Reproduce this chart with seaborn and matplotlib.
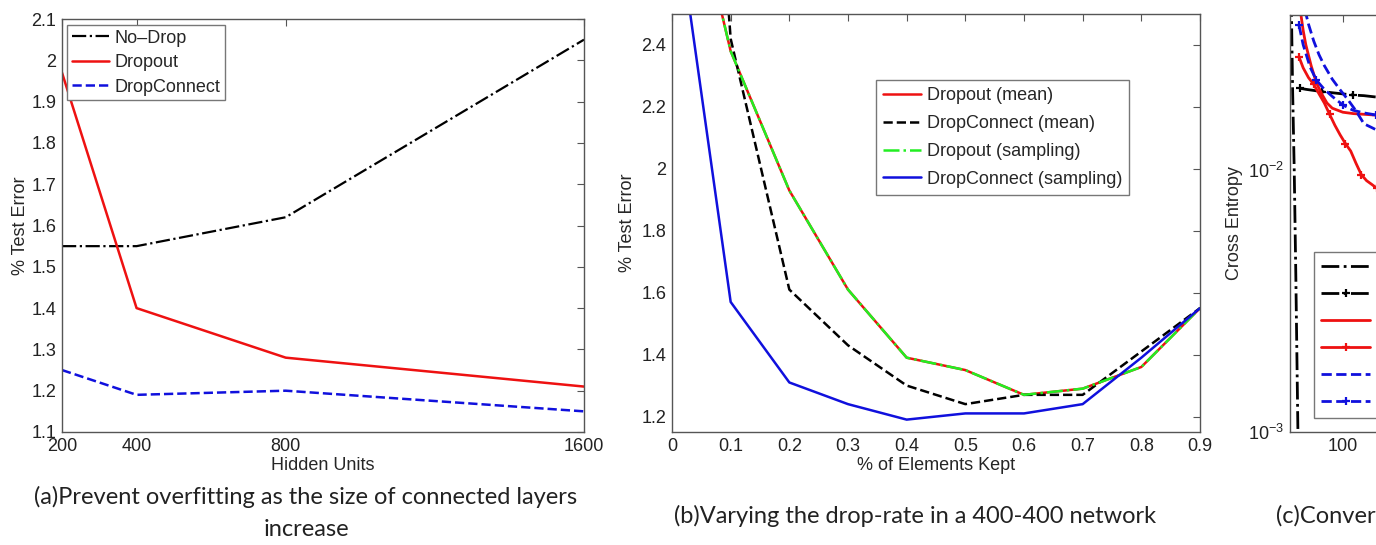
import pandas as pd
import numpy as np
import seaborn as sns
import matplotlib.pyplot as plt
from matplotlib.ticker import FuncFormatter

# (a) hidden units
units = [200, 400, 800, 1600]
nodrop_a = [1.55, 1.55, 1.62, 2.05]
dropout_a = [1.97, 1.40, 1.28, 1.21]
dropconnect_a = [1.25, 1.19, 1.20, 1.15]

# (b) fraction of elements kept
kept = [0.0, 0.1, 0.2, 0.3, 0.4, 0.5, 0.6, 0.7, 0.8, 0.9]
dropout_mean = [3.18, 2.38, 1.93, 1.61, 1.39, 1.35, 1.27, 1.29, 1.36, 1.55]
dropconnect_mean = [5.0, 2.42, 1.61, 1.43, 1.30, 1.24, 1.27, 1.27, 1.41, 1.55]
dropout_sampling = [3.18, 2.38, 1.93, 1.61, 1.39, 1.35, 1.27, 1.29, 1.36, 1.55]
dropconnect_sampling = [2.92, 1.57, 1.31, 1.24, 1.19, 1.21, 1.21, 1.24, 1.39, 1.55]

# (c) convergence (only the left edge is visible)
ep_nodrop_train = [2, 5, 8, 11, 13, 15, 17]
nodrop_train = [0.05, 0.02, 0.01, 0.004, 0.002, 0.001, 0.0006]
ep_nodrop_test = [18, 30, 45, 60, 80, 100, 120, 140, 160, 180]
nodrop_test = [0.0205, 0.0203, 0.0201, 0.0199, 0.0197, 0.0195, 0.0193, 0.0192, 0.019, 0.0189]
ep_dropout_train = [20, 25, 30, 40, 50, 60, 70, 80, 100, 120, 140, 160, 180]
dropout_train = [0.040, 0.034, 0.030, 0.025, 0.0215, 0.0195, 0.018, 0.0172, 0.0166, 0.0164, 0.0163, 0.0162, 0.0161]
ep_dropout_test = [17, 25, 35, 45, 55, 65, 75, 85, 95, 105, 115, 125, 135, 145, 155, 165, 175]
dropout_test = [0.027, 0.0245, 0.0225, 0.0212, 0.0195, 0.018, 0.0163, 0.0148, 0.0136, 0.0126,
                0.0118, 0.0106, 0.0096, 0.0091, 0.0088, 0.0085, 0.0083]
ep_dc_train = [28, 35, 45, 55, 65, 80, 95, 110, 125, 140, 155, 170]
dc_train = [0.041, 0.036, 0.031, 0.0275, 0.025, 0.0222, 0.0202, 0.0185, 0.0168, 0.0150, 0.0145, 0.014]
ep_dc_test = [17, 25, 38, 50, 65, 81, 100, 119, 140, 163, 180]
dc_test = [0.0357, 0.030, 0.0247, 0.0220, 0.0203, 0.019, 0.0177, 0.0169, 0.0165, 0.0162, 0.016]

sns.set_theme(style="white")
plt.rcParams["font.family"] = ["Liberation Sans", "DejaVu Sans"]
plt.rcParams["font.size"] = 13

fig = plt.figure(figsize=(13.76, 5.45), dpi=100)
ax_a = fig.add_axes([62/1376, 113/545, 522/1376, 413/545])
ax_b = fig.add_axes([672/1376, 113/545, 528/1376, 418/545])
ax_c = fig.add_axes([1290/1376, 113/545, 528/1376, 417/545])


def matlab_box(ax):
    for s in ax.spines.values():
        s.set_color("#555555")
        s.set_linewidth(1.0)
    ax.tick_params(direction="in", top=True, right=True, length=5, width=0.8,
                   color="#555555", labelsize=13, labelcolor="#222222", pad=4)
    ax.tick_params(which="minor", direction="in", top=True, right=True, length=3,
                   width=0.6, color="#555555")


leg_kw = dict(fontsize=13, frameon=True, fancybox=False, edgecolor="#777777", framealpha=1,
              borderaxespad=0, bbox_transform=fig.transFigure, loc="upper left")

# ---- (a)
df_a = pd.DataFrame({"units": units, "nd": nodrop_a, "do": dropout_a, "dc": dropconnect_a})
sns.lineplot(data=df_a, x="units", y="nd", ax=ax_a, color="black", lw=1.6,
             linestyle="-.", label="No\u2013Drop")
sns.lineplot(data=df_a, x="units", y="do", ax=ax_a, color="#ee1111", lw=1.8, label="Dropout")
sns.lineplot(data=df_a, x="units", y="dc", ax=ax_a, color="#1010dd", lw=1.8,
             linestyle="--", label="DropConnect")
ax_a.set_xlim(200, 1600)
ax_a.set_ylim(1.1, 2.1)
ax_a.set_xticks(units)
ax_a.set_yticks(np.arange(1.1, 2.15, 0.1))
ax_a.yaxis.set_major_formatter(FuncFormatter(lambda v, p: "%g" % round(v, 2)))
ax_a.set_xlabel("Hidden Units", fontsize=13, labelpad=2)
ax_a.set_ylabel("% Test Error", fontsize=13, labelpad=2)
matlab_box(ax_a)
ax_a.legend(bbox_to_anchor=(67/1376, 1-25/545), borderpad=0.25, labelspacing=0.42,
            handlelength=2.1, handletextpad=0.3, **leg_kw)

# ---- (b)
df_b = pd.DataFrame({"kept": kept, "dm": dropout_mean, "dcm": dropconnect_mean,
                     "ds": dropout_sampling, "dcs": dropconnect_sampling})
sns.lineplot(data=df_b, x="kept", y="dm", ax=ax_b, color="#ee1111", lw=1.8, label="Dropout (mean)")
sns.lineplot(data=df_b, x="kept", y="dcm", ax=ax_b, color="black", lw=1.8, linestyle="--",
             label="DropConnect (mean)")
sns.lineplot(data=df_b, x="kept", y="ds", ax=ax_b, color="#22ee22", lw=1.8, linestyle="-.",
             label="Dropout (sampling)")
sns.lineplot(data=df_b, x="kept", y="dcs", ax=ax_b, color="#1010dd", lw=1.8,
             label="DropConnect (sampling)")
ax_b.set_xlim(0, 0.9)
ax_b.set_ylim(1.15, 2.5)
ax_b.set_xticks(kept)
ax_b.set_yticks(np.arange(1.2, 2.45, 0.2))
ax_b.xaxis.set_major_formatter(FuncFormatter(lambda v, p: "%g" % round(v, 2)))
ax_b.yaxis.set_major_formatter(FuncFormatter(lambda v, p: "%g" % round(v, 2)))
ax_b.set_xlabel("% of Elements Kept", fontsize=13, labelpad=2)
ax_b.set_ylabel("% Test Error", fontsize=13, labelpad=4)
matlab_box(ax_b)
ax_b.legend(bbox_to_anchor=(876/1376, 1-80/545), borderpad=0.4, labelspacing=0.6,
            handlelength=2.1, handletextpad=0.3, **leg_kw)

# ---- (c)
series_c = [
    (ep_nodrop_train, nodrop_train, "black", "-.", None, "No-Drop Train"),
    (ep_nodrop_test, nodrop_test, "black", "-.", "+", "No-Drop Test"),
    (ep_dropout_train, dropout_train, "#ee1111", "-", None, "Dropout Train"),
    (ep_dropout_test, dropout_test, "#ee1111", "-", "+", "Dropout Test"),
    (ep_dc_train, dc_train, "#1010dd", "--", None, "DropConnect Train"),
    (ep_dc_test, dc_test, "#1010dd", "--", "+", "DropConnect Test"),
]
for xs, ys, col, ls, mk, lab in series_c:
    d = pd.DataFrame({"epoch": xs, "ce": ys})
    sns.lineplot(data=d, x="epoch", y="ce", ax=ax_c, color=col, lw=2.0, linestyle=ls,
                 marker=mk, markersize=6, markeredgewidth=1.6, markeredgecolor=col,
                 markevery=3, label=lab)
ax_c.set_yscale("log")
ax_c.set_xlim(0, 1000)
ax_c.set_ylim(1e-3, 0.039)
ax_c.set_xticks(np.arange(100, 1001, 100))
ax_c.set_xlabel("")
ax_c.set_ylabel("Cross Entropy", fontsize=13, labelpad=4)
matlab_box(ax_c)
ax_c.legend(bbox_to_anchor=(1314/1376, 1-252/545), borderpad=0.4, labelspacing=0.55,
            handlelength=2.7, handletextpad=0.8, **leg_kw)

# captions
cap = dict(fontsize=17, family=["Lato", "DejaVu Sans"], color="#222222", va="center")
fig.text(306/1376, 1-497/545, "(a)Prevent overfitting as the size of connected layers", ha="center", **cap)
fig.text(306/1376, 1-530/545, "increase", ha="center", **cap)
fig.text(915/1376, 1-516/545, "(b)Varying the drop-rate in a 400-400 network", ha="center", **cap)
fig.text(1276/1376, 1-516/545, "(c)Convergence properties of the train/test sets", ha="left", **cap)

fig.savefig("out.png", dpi=100)
